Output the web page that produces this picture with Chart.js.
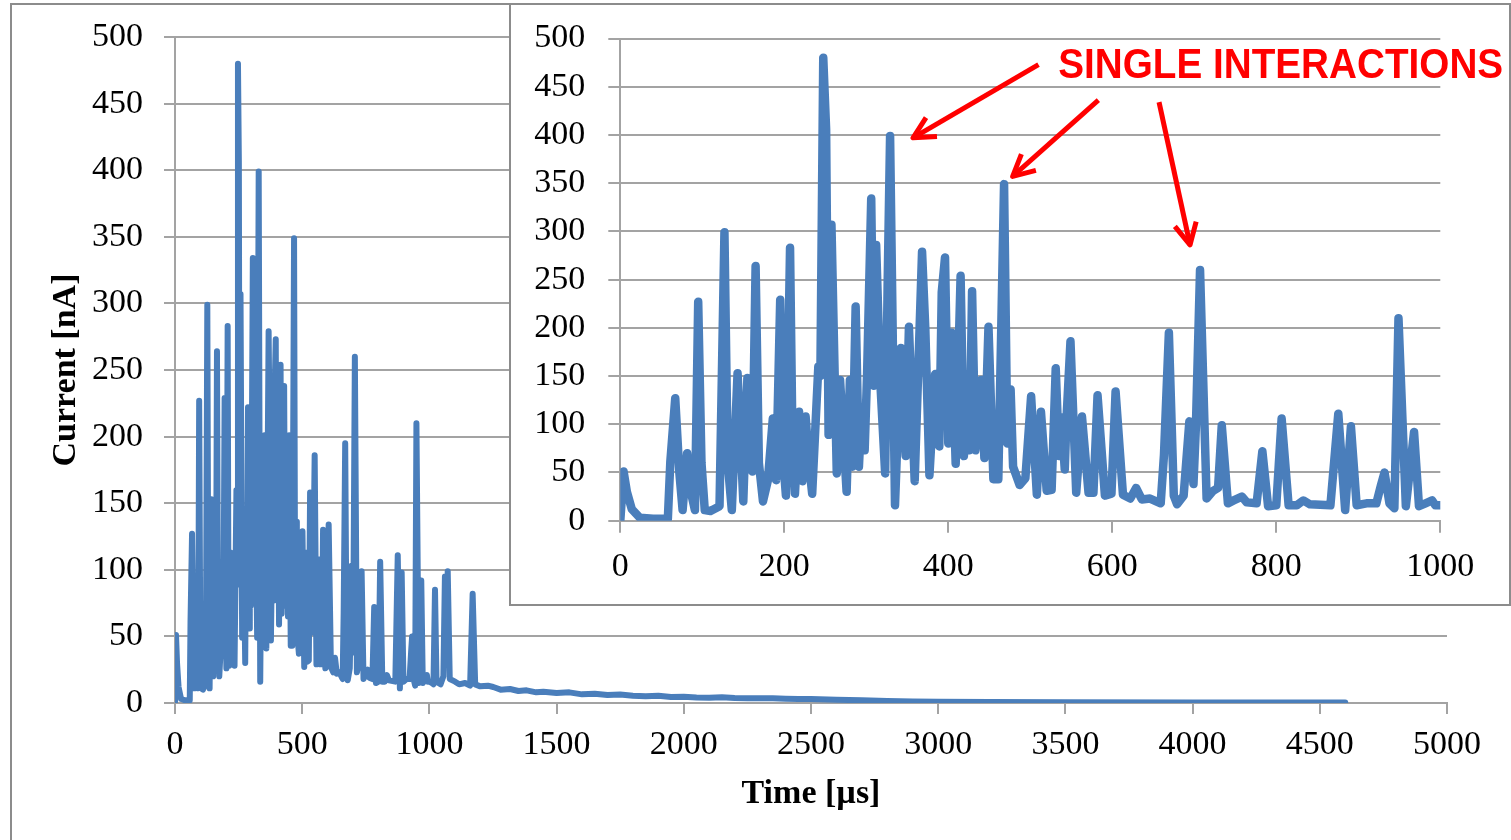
<!DOCTYPE html>
<html>
<head>
<meta charset="utf-8">
<script src="https://cdn.jsdelivr.net/npm/chart.js@4.4.1/dist/chart.umd.min.js"></script>
<style>
    html, body { margin: 0; padding: 0; background: #fff; overflow: hidden; }
    #page { position: relative; width: 1511px; height: 840px; overflow: hidden; }
    #outerFrame { position: absolute; left: 10px; top: 3px; width: 1510px; height: 900px; border: 2px solid #8c8c8c; box-sizing: border-box; }
    #mainChart { position: absolute; left: 0; top: 0; }
    #insetFrame { position: absolute; left: 509px; top: 3px; width: 1002px; height: 603px; border: 2px solid #8c8c8c; box-sizing: border-box; background: #fff; }
    #insetChart { position: absolute; left: 510px; top: 3px; }
</style>
</head>
<body>
<div id="page">
    <div id="outerFrame"></div>
    <canvas id="mainChart" width="1511" height="840"></canvas>
    <div id="insetFrame"></div>
    <canvas id="insetChart" width="1001" height="602"></canvas>
</div>
<script>
    'use strict';

    // Measured current pulse train, time in µs, current in nA
    const timeUs = [
        0, 4, 8, 14, 24, 40, 58, 61, 67, 72, 76, 81.5, 86, 91, 95, 99, 103, 110, 121,
        127, 131, 136, 143, 150, 155, 158, 161, 165, 169, 174, 180, 186, 190, 195, 198,
        202, 207, 210, 213, 218, 222, 226, 230, 234, 241.5, 244, 247.5, 251, 254, 257.5,
        264, 268, 276, 280, 283, 287, 291, 294, 298, 301, 306, 309, 312, 317, 323, 326,
        329, 335, 342, 348, 352, 359, 368, 372, 377, 384, 389, 392, 396, 400, 404, 409,
        415, 419, 423, 426, 429, 433, 440, 444, 449, 455, 461, 468, 472, 476, 479, 487,
        494, 501, 508, 513, 520, 526, 531, 535, 538, 542, 544, 549, 556, 563, 571, 577,
        582, 591, 599, 604, 613, 622, 629, 636, 646, 659, 663, 669, 675, 679, 687, 694,
        699, 702, 707, 715, 723, 729, 733.5, 741, 748, 758, 764, 776, 783, 790, 800,
        806.5, 815, 825, 833, 841, 866, 875.6, 884, 891, 898, 910, 922, 928, 932, 938,
        944, 949, 958, 968, 974, 982, 990, 994, 1000
    ];
    const currentNa = [
        0, 51, 30, 12, 3, 2, 2, 61, 127, 50, 11, 70, 30, 11, 227, 60, 11, 10, 15,
        299, 60, 11, 153, 20, 148, 146, 51, 264, 60, 20, 42, 106, 42, 229, 70,
        26, 283, 80, 28, 113, 41, 108, 60, 28, 160, 150, 480, 406, 89, 307,
        49, 146, 30, 146, 56, 222, 56, 110, 73, 153, 334, 140, 286, 145, 49, 243,
        399, 16, 179, 67, 201, 41, 279, 198, 47, 152, 77, 237, 273, 80, 195, 59,
        254, 67, 125, 73, 238, 73, 146, 65, 201, 43, 43, 349, 80, 136, 56, 37,
        44, 129, 27, 113, 31, 32, 158, 67, 107, 53, 103, 186, 29, 108, 29, 29,
        130, 26, 28, 134, 27, 23, 34, 22, 23, 18, 68, 195, 26, 17, 26, 103,
        38, 99, 260, 23, 31, 34, 99, 18, 21, 25, 19, 18, 72, 15, 16,
        106, 16, 16, 21, 17, 16, 111, 11, 98, 16, 18, 18, 38, 50, 18,
        13, 210, 15, 92, 15, 18, 21, 16, 16
    ];
    // Slow decay after the burst
    const tailTimeUs = [
        1010, 1016, 1022, 1028, 1044, 1055, 1061, 1066, 1072, 1080, 1101, 1117, 1140,
        1160, 1170, 1180, 1200, 1230, 1251, 1280, 1317, 1350, 1382, 1420, 1448, 1500,
        1550, 1600, 1650, 1700, 1750, 1800, 1850, 1900, 1950, 2000, 2050, 2100, 2150,
        2200, 2250, 2300, 2350, 2400, 2450, 2500, 2600, 2700, 2800, 2900, 3000, 3200,
        3500, 4000, 4300, 4600
    ];
    const tailCurrentNa = [
        15, 14, 85, 16, 14, 20, 95, 40, 99, 18, 16, 14, 15,
        13, 82, 14, 12.5, 13, 12, 10, 10.5, 9, 9.5, 8, 8.5, 7.5,
        8, 6.5, 7, 6, 6.3, 5.5, 5, 5.4, 4.5, 4.7, 4.2, 4, 4.3,
        3.8, 3.6, 3.5, 3.6, 3.2, 3.0, 3, 2.5, 2, 1.5, 1.2, 1, 0.8,
        0.6, 0.4, 0.3, 0.3
    ];

    const mainXTicks = { min: 0, max: 5000, step: 500 };
    const insetXTicks = { min: 0, max: 1000, step: 200 };
    const yTicks = { min: 0, max: 500, step: 50 };

    // callout, in inset data units
    const calloutText = 'SINGLE INTERACTIONS';
    const calloutAnchor = [534, 459];
    const calloutArrows = [
        { from: [510, 473], to: [357, 397] },
        { from: [583, 436], to: [478.5, 357] },
        { from: [657, 434], to: [694.8, 286] }
    ];

    const lineBlue = '#4a7ebb';
    const gridGray = '#a3a3a3';
    const serif = "'Liberation Serif', 'Times New Roman', serif";

    function buildPoints() {
        return timeUs.map((t, i) => ({ x: t, y: currentNa[i] }))
            .concat(tailTimeUs.map((t, i) => ({ x: t, y: tailCurrentNa[i] })));
    }

    function buildScales(opt) {
        return {
            x: {
                type: 'linear',
                min: opt.xRange.min,
                max: opt.xRange.max,
                ticks: {
                    stepSize: opt.xRange.step,
                    autoSkip: false,
                    maxRotation: 0,
                    color: '#000',
                    padding: opt.xPad,
                    font: { family: serif, size: opt.tickSize },
                    callback: (v) => String(v)
                },
                grid: { drawOnChartArea: false, drawTicks: true, tickLength: opt.tickLen, color: gridGray, lineWidth: 2 },
                border: { color: gridGray, width: 2 },
                title: opt.xTitle ? {
                    display: true,
                    text: opt.xTitle,
                    color: '#000',
                    font: { family: serif, size: 34, weight: 'bold' },
                    padding: { top: 0, bottom: 25 }
                } : { display: false },
                afterFit: (s) => { s.height = opt.xHeight; s.paddingLeft = 0; s.paddingRight = 0; }
            },
            y: {
                type: 'linear',
                min: yTicks.min,
                max: yTicks.max,
                ticks: {
                    stepSize: yTicks.step,
                    color: '#000',
                    padding: opt.yPad,
                    font: { family: serif, size: opt.tickSize },
                    callback: (v) => String(v)
                },
                grid: { color: gridGray, lineWidth: 2, drawTicks: true, tickLength: opt.tickLen },
                border: { color: gridGray, width: 2 },
                title: opt.yTitle ? {
                    display: true,
                    text: opt.yTitle,
                    color: '#000',
                    font: { family: serif, size: 34, weight: 'bold' },
                    padding: { top: 46, bottom: 0 }
                } : { display: false },
                afterFit: (s) => { s.width = opt.yWidth; s.paddingTop = 0; s.paddingBottom = 0; }
            }
        };
    }

    function drawArrow(ctx, x0, y0, x1, y1) {
        const ang = Math.atan2(y1 - y0, x1 - x0);
        const head = 24;
        const spread = 27 * Math.PI / 180;
        ctx.beginPath();
        ctx.moveTo(x0, y0);
        ctx.lineTo(x1, y1);
        ctx.stroke();
        ctx.beginPath();
        ctx.moveTo(x1 - head * Math.cos(ang - spread), y1 - head * Math.sin(ang - spread));
        ctx.lineTo(x1, y1);
        ctx.lineTo(x1 - head * Math.cos(ang + spread), y1 - head * Math.sin(ang + spread));
        ctx.stroke();
    }

    const calloutPlugin = {
        id: 'callout',
        afterDraw(chart) {
            const ctx = chart.ctx;
            const xs = chart.scales.x;
            const ys = chart.scales.y;
            ctx.save();
            ctx.fillStyle = '#ff0000';
            ctx.strokeStyle = '#ff0000';
            ctx.lineWidth = 5;
            ctx.lineJoin = 'round';
            ctx.font = "bold 43px 'Liberation Sans', Arial, sans-serif";
            ctx.textBaseline = 'alphabetic';
            ctx.fillText(calloutText, xs.getPixelForValue(calloutAnchor[0]), ys.getPixelForValue(calloutAnchor[1]), 445);
            calloutArrows.forEach(a => {
                drawArrow(ctx,
                    xs.getPixelForValue(a.from[0]), ys.getPixelForValue(a.from[1]),
                    xs.getPixelForValue(a.to[0]), ys.getPixelForValue(a.to[1]));
            });
            ctx.restore();
        }
    };

    function makeChart(canvasId, lineWidth, scaleOpt, padding, extraPlugins) {
        return new Chart(document.getElementById(canvasId), {
            type: 'line',
            data: {
                datasets: [{
                    data: buildPoints(),
                    borderColor: lineBlue,
                    borderWidth: lineWidth,
                    pointRadius: 0,
                    tension: 0,
                    fill: false
                }]
            },
            options: {
                responsive: false,
                animation: false,
                devicePixelRatio: 1,
                elements: { line: { borderJoinStyle: 'round', borderCapStyle: 'round' }, point: { radius: 0 } },
                layout: { padding: padding },
                plugins: { legend: { display: false }, tooltip: { enabled: false } },
                scales: buildScales(scaleOpt)
            },
            plugins: extraPlugins
        });
    }

    makeChart('mainChart', 6, {
        xRange: mainXTicks, tickSize: 34, tickLen: 11, xPad: 11, yPad: 21,
        xHeight: 137, yWidth: 175, xTitle: 'Time [µs]', yTitle: 'Current [nA]'
    }, { left: 0, top: 37, right: 64, bottom: 0 }, []);

    makeChart('insetChart', 8.5, {
        xRange: insetXTicks, tickSize: 34, tickLen: 12, xPad: 13.6, yPad: 23,
        xHeight: 84.3, yWidth: 110.3, xTitle: null, yTitle: null
    }, { left: 0, top: 35.5, right: 70.7, bottom: 0 }, [calloutPlugin]);
</script>
</body>
</html>
